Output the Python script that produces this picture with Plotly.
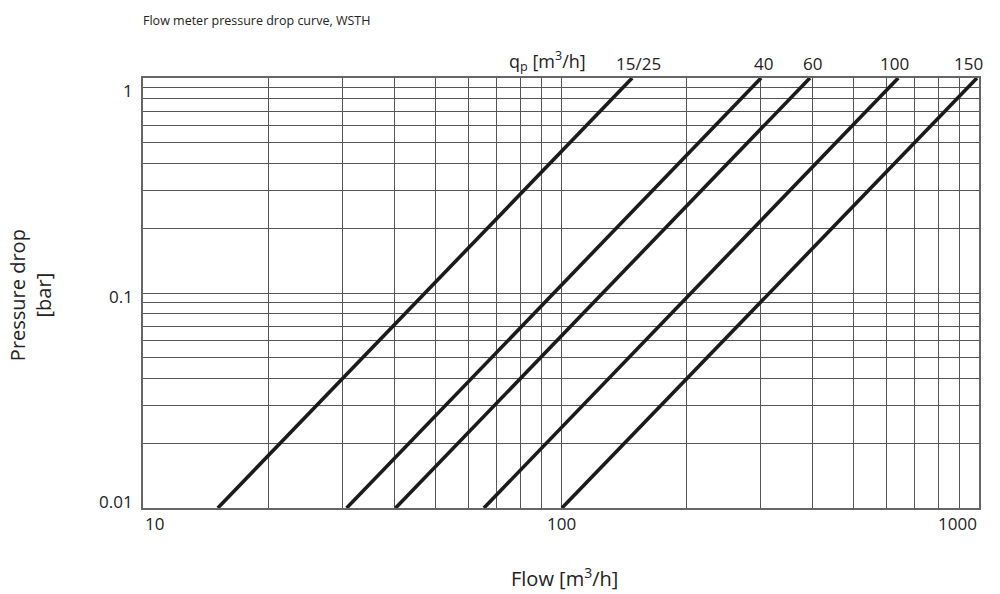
import math
import plotly.graph_objects as go

# ---- data ----
meter_labels = ["15/25", "40", "60", "100", "150"]
flow_at_low = [15.1, 30.7, 40.2, 65.4, 100.5]     # m3/h at 0.01 bar
flow_at_high = [148, 301, 394, 641, 989]          # m3/h at 1 bar
dp_low = 0.01
dp_high = 1.0

x_grid = [10, 20, 30, 40, 50, 60, 70, 80, 90, 100,
          200, 300, 400, 500, 600, 700, 800, 900, 1000]
y_grid = [0.01, 0.02, 0.03, 0.04, 0.05, 0.06, 0.07, 0.08, 0.09, 0.1,
          0.2, 0.3, 0.4, 0.5, 0.6, 0.7, 0.8, 0.9, 1.0]
x_tick_labels = ["10", "100", "1000"]
y_tick_labels = ["1", "0.1", "0.01"]

FONT = "Open Sans"
fig = go.Figure()

for lab, q0, q1 in zip(meter_labels, flow_at_low, flow_at_high):
    fig.add_trace(go.Scatter(
        x=[q0, q1], y=[dp_low, dp_high], mode="lines", name=lab,
        line=dict(color="#1b1b1b", width=3.6), showlegend=False,
        hoverinfo="x+y"))

annotations = []
# meter size labels above the line ends
shifts = {"15/25": 6, "40": 2, "60": 3, "100": -4, "150": -8}
for lab, q1 in zip(meter_labels, flow_at_high):
    annotations.append(dict(
        x=math.log10(q1), y=1, xref="x", yref="paper", text=lab,
        showarrow=False, xanchor="center", yanchor="bottom", yshift=1,
        xshift=shifts[lab], font=dict(size=17, color="#222", family=FONT)))
annotations.append(dict(
    x=0.484, y=1, xref="paper", yref="paper",
    text="q<sub>p</sub> [m<sup>3</sup>/h]", showarrow=False,
    xanchor="center", yanchor="bottom", yshift=1,
    font=dict(size=18, color="#222", family=FONT)))

# x tick labels
x_anchor = {"10": "left", "100": "center", "1000": "right"}
for t in x_tick_labels:
    annotations.append(dict(
        x=math.log10(float(t)), y=0, xref="x", yref="paper", text=t,
        showarrow=False, xanchor=x_anchor[t], yanchor="top", yshift=-2,
        font=dict(size=17, color="#222", family=FONT)))
# y tick labels
y_shift = {"1": -12, "0.1": -3, "0.01": 7}
for t in y_tick_labels:
    annotations.append(dict(
        x=0, y=math.log10(float(t)), xref="paper", yref="y", text=t,
        showarrow=False, xanchor="right", yanchor="middle", xshift=-8,
        yshift=y_shift[t], font=dict(size=17, color="#222", family=FONT)))

# axis titles
annotations.append(dict(
    x=0.5036, y=0, xref="paper", yref="paper", text="Flow [m<sup>3</sup>/h]",
    showarrow=False, xanchor="center", yanchor="middle", yshift=-69,
    font=dict(size=20, color="#222", family=FONT)))
annotations.append(dict(
    x=0, y=0.495, xref="paper", yref="paper", text="Pressure drop<br>[bar]",
    showarrow=False, xanchor="center", yanchor="middle", xshift=-113,
    textangle=-90, font=dict(size=20, color="#222", family=FONT)))

fig.update_layout(
    width=1000, height=594, autosize=False,
    paper_bgcolor="white", plot_bgcolor="white",
    margin=dict(l=143, r=21, t=78, b=86),
    title=dict(text="Flow meter pressure drop curve, WSTH", x=0.143,
               xanchor="left", y=0.965, yanchor="middle",
               font=dict(size=12.5, color="#222", family=FONT)),
    annotations=annotations,
    font=dict(family=FONT, color="#222"),
)
fig.update_xaxes(type="log", range=[1, 3], tickvals=x_grid,
                 showticklabels=False, ticks="", showgrid=True,
                 gridcolor="#555", gridwidth=1, showline=True,
                 linecolor="#666", linewidth=1.5, mirror=True,
                 zeroline=False)
fig.update_yaxes(type="log", range=[-2, 0], tickvals=y_grid,
                 showticklabels=False, ticks="", showgrid=True,
                 gridcolor="#555", gridwidth=1, showline=True,
                 linecolor="#666", linewidth=1.5, mirror=True,
                 zeroline=False)

fig.write_html("out.html", config={"displayModeBar": False},
               post_script="document.body.style.margin='0';")
